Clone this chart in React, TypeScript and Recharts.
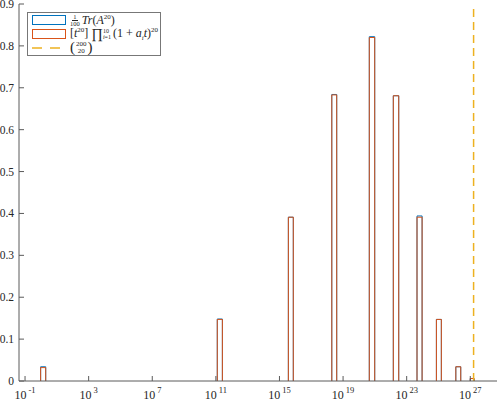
import React from 'react';
import { ComposedChart, Line, XAxis, YAxis } from 'recharts';

// histogram bins, in log10 units of the x axis
const binLeft = [-0.02, 11.09, 15.56, 18.29, 20.65, 22.16, 23.65, 24.87, 26.09, 27.0];
const binRight = [0.3, 11.41, 15.87, 18.6, 20.99, 22.5, 23.97, 25.18, 26.4, 27.24];
const traceHeights = [0.034, 0.148, 0.391, 0.684, 0.822, 0.681, 0.394, 0.147, 0.034, 0.006];
const coeffHeights = [0.032, 0.147, 0.391, 0.683, 0.82, 0.681, 0.391, 0.147, 0.034, 0.006];
const binomLog = 27.2078; // log10 of C(200,20)

const xTicks = [-1, 3, 7, 11, 15, 19, 23, 27];
const yTicks = [0, 0.1, 0.2, 0.3, 0.4, 0.5, 0.6, 0.7, 0.8, 0.9];
const xDomain = [-1.38, 28.68];
const yDomain = [0, 0.9];

const BLUE = '#0072BD';
const ORANGE = '#D95319';
const YELLOW = '#EDB120';
const AXIS = '#5a5a5a';
const TEXT = '#262626';
const FONT = '"Liberation Serif", serif';
const TICK_LEN = 5;

// bar outlines, broken with nulls between bins
function outline(heights: number[]) {
  const pts: { x: number; y: number | null }[] = [];
  heights.forEach((h, i) => {
    pts.push({ x: binLeft[i], y: 0 });
    pts.push({ x: binLeft[i], y: h });
    pts.push({ x: binRight[i], y: h });
    pts.push({ x: binRight[i], y: 0 });
    pts.push({ x: binRight[i] + 0.05, y: null });
  });
  return pts;
}

const traceData = outline(traceHeights);
const coeffData = outline(coeffHeights);

const BottomTick = (props: any) => {
  const { x, y, payload } = props;
  return (
    <g>
      <line x1={x} y1={y} x2={x} y2={y - TICK_LEN} stroke={AXIS} />
      <text x={x} y={y + 18} textAnchor="middle" fill={TEXT} style={{ fontFamily: FONT, fontSize: 12 }}>
        <tspan>10</tspan>
        <tspan dx={2} dy={-6} style={{ fontSize: 8.5 }}>{payload.value}</tspan>
      </text>
    </g>
  );
};

const TopTick = (props: any) => {
  const { x, y } = props;
  return <line x1={x} y1={y} x2={x} y2={y + TICK_LEN} stroke={AXIS} />;
};

const LeftTick = (props: any) => {
  const { x, y, payload } = props;
  return (
    <g>
      <line x1={x} y1={y} x2={x + TICK_LEN} y2={y} stroke={AXIS} />
      <text x={x - 5} y={y + 4} textAnchor="end" fill={TEXT} style={{ fontFamily: FONT, fontSize: 11.5 }}>
        {payload.value === 0 ? '0' : payload.value.toFixed(1)}
      </text>
    </g>
  );
};

const RightTick = (props: any) => {
  const { x, y } = props;
  return <line x1={x} y1={y} x2={x - TICK_LEN} y2={y} stroke={AXIS} />;
};

const Frac = ({ top, bottom, size, rule }: { top: string; bottom: string; size: number; rule: boolean }) => (
  <span style={{ display: 'inline-flex', flexDirection: 'column', alignItems: 'center', fontSize: size, lineHeight: 0.9, verticalAlign: 'middle' }}>
    <span style={{ borderBottom: rule ? '0.6px solid #262626' : 'none', padding: '0 1px' }}>{top}</span>
    <span>{bottom}</span>
  </span>
);

const sup = { fontSize: 7, verticalAlign: 5 } as React.CSSProperties;
const sub = { fontSize: 7, verticalAlign: -3 } as React.CSSProperties;

const legendTops = [0, 14, 27.5];

const legendRows = [
  {
    key: 'trace',
    icon: <rect x={0.5} y={0.5} width={33} height={9} fill="none" stroke={BLUE} />,
    label: (
      <span>
        <Frac top="1" bottom="100" size={6.5} rule />
        <span style={{ marginLeft: 2 }}><i>Tr</i>(<i>A</i><span style={sup}>20</span>)</span>
      </span>
    ),
  },
  {
    key: 'coeff',
    icon: <rect x={0.5} y={0.5} width={33} height={9} fill="none" stroke={ORANGE} />,
    label: (
      <span>
        [<i>t</i><span style={sup}>20</span>]{' '}
        <span style={{ fontSize: 14, verticalAlign: -1 }}>&#8719;</span>
        <span style={{ display: 'inline-flex', flexDirection: 'column', fontSize: 6, lineHeight: 1, verticalAlign: 'middle', marginRight: 2 }}>
          <span>10</span>
          <span><i>i</i>=1</span>
        </span>
        (1 + <i>a</i><span style={sub}><i>i</i></span><i>t</i>)<span style={sup}>20</span>
      </span>
    ),
  },
  {
    key: 'binom',
    icon: <line x1={0} y1={5} x2={34} y2={5} stroke={YELLOW} strokeWidth={1.5} strokeDasharray="10 8" />,
    label: (
      <span>
        <span style={{ fontSize: 15, verticalAlign: 'middle' }}>(</span>
        <Frac top="200" bottom="20" size={7} rule={false} />
        <span style={{ fontSize: 15, verticalAlign: 'middle' }}>)</span>
      </span>
    ),
  },
];

const LegendBox = () => (
  <div
    style={{
      position: 'absolute',
      left: 27,
      top: 12,
      width: 132,
      height: 42,
      border: '1px solid #777',
      background: '#fff',
      fontFamily: FONT,
      fontSize: 12,
      color: TEXT,
    }}
  >
    {legendRows.map((row, i) => (
      <div key={row.key} style={{ position: 'absolute', left: 4, top: legendTops[i], height: 14, display: 'flex', alignItems: 'center', whiteSpace: 'nowrap' }}>
        <svg width={34} height={10} style={{ display: 'block' }}>{row.icon}</svg>
        <span style={{ marginLeft: 4 }}>{row.label}</span>
      </div>
    ))}
  </div>
);

export default function App() {
  return (
    <div style={{ position: 'absolute', left: 0, top: 0, width: 498, height: 401 }}>
      <ComposedChart width={498} height={401} margin={{ top: 4, right: 1, bottom: 0, left: 0 }}>
        <XAxis
          xAxisId="bottom"
          type="number"
          dataKey="x"
          domain={xDomain}
          ticks={xTicks}
          allowDataOverflow
          height={20}
          tickLine={false}
          tickSize={0}
          tickMargin={0}
          axisLine={{ stroke: AXIS }}
          tick={<BottomTick />}
          interval={0}
        />
        <XAxis
          xAxisId="top"
          orientation="top"
          type="number"
          dataKey="x"
          domain={xDomain}
          ticks={xTicks}
          allowDataOverflow
          height={0}
          tickLine={false}
          tickSize={0}
          tickMargin={0}
          axisLine={{ stroke: AXIS }}
          tick={<TopTick />}
          interval={0}
        />
        <YAxis
          yAxisId="left"
          type="number"
          domain={yDomain}
          ticks={yTicks}
          allowDataOverflow
          width={19}
          tickLine={false}
          tickSize={0}
          tickMargin={0}
          axisLine={{ stroke: AXIS }}
          tick={<LeftTick />}
          interval={0}
        />
        <YAxis
          yAxisId="right"
          orientation="right"
          type="number"
          domain={yDomain}
          ticks={yTicks}
          allowDataOverflow
          width={0}
          tickLine={false}
          tickSize={0}
          tickMargin={0}
          axisLine={{ stroke: AXIS }}
          tick={<RightTick />}
          interval={0}
        />
        <Line
          xAxisId="bottom"
          yAxisId="left"
          data={traceData}
          dataKey="y"
          type="linear"
          stroke={BLUE}
          strokeWidth={1}
          dot={false}
          activeDot={false}
          isAnimationActive={false}
        />
        <Line
          xAxisId="bottom"
          yAxisId="left"
          data={coeffData}
          dataKey="y"
          type="linear"
          stroke={ORANGE}
          strokeWidth={1}
          dot={false}
          activeDot={false}
          isAnimationActive={false}
        />
        <Line
          xAxisId="top"
          yAxisId="right"
          data={[{ x: binomLog, y: 0 }, { x: binomLog, y: 0.9 }]}
          dataKey="y"
          type="linear"
          stroke={YELLOW}
          strokeWidth={1.5}
          strokeDasharray="8 5"
          dot={false}
          activeDot={false}
          isAnimationActive={false}
        />
      </ComposedChart>
      <LegendBox />
    </div>
  );
}
